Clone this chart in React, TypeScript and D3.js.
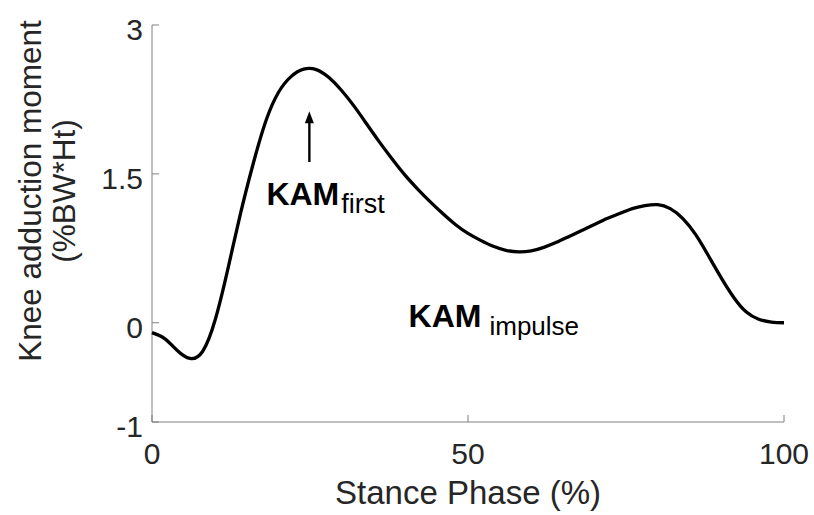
import React from 'react'
import * as d3 from 'd3'

// stance phase (%) and knee adduction moment (%BW*Ht)
const stance = [0, 2, 4, 6, 8, 10, 12, 14, 16, 18, 20, 22, 24, 26, 28, 30, 32, 34, 36, 38, 40,
  42, 44, 46, 48, 50, 52, 54, 56, 58, 60, 62, 64, 66, 68, 70, 72, 74, 76, 78, 80,
  82, 84, 86, 88, 90, 92, 94, 96, 98, 100]
const kam = [-0.10, -0.16, -0.28, -0.36, -0.29, 0.03, 0.54, 1.10, 1.60, 2.03, 2.32, 2.48, 2.555, 2.55, 2.47, 2.34, 2.18, 2.00, 1.82, 1.65, 1.49,
  1.35, 1.22, 1.10, 0.99, 0.90, 0.83, 0.77, 0.73, 0.715, 0.725, 0.76, 0.81, 0.87, 0.93, 0.99, 1.05, 1.10, 1.15, 1.18, 1.19,
  1.15, 1.05, 0.89, 0.68, 0.46, 0.26, 0.11, 0.035, 0.007, 0]

const xTicks = [0, 50, 100]
const yTicks = [-1, 0, 1.5, 3]
const yTickLabels = ['-1', '0', '1.5', '3']

const xTitle = 'Stance Phase (%)'
const yTitle = ['Knee adduction moment', '(%BW*Ht)']

// annotation anchors in data units
const arrowX = 24.9
const arrowFrom = 1.62
const arrowTo = 2.13
const firstLabel = { x: 18.1, y: 1.19, main: 'KAM', sub: 'first' }
const impulseLabel = { x: 40.6, y: -0.04, main: 'KAM', sub: 'impulse' }

const W = 814
const H = 515
const margin = { left: 152, right: 30, top: 25, bottom: 93 }
const font = '"Liberation Sans", Arial, Helvetica, sans-serif'
const textColor = '#262626'
const axisColor = '#808080'

export default function App() {
  const x = d3.scaleLinear().domain([0, 100]).range([margin.left, W - margin.right])
  const y = d3.scaleLinear().domain([-1, 3]).range([H - margin.bottom, margin.top])

  const pts: [number, number][] = stance.map((s, i) => [s, kam[i]])
  const line = d3.line<[number, number]>()
    .x(d => x(d[0]))
    .y(d => y(d[1]))
    .curve(d3.curveNatural)

  const x0 = x(0), x1 = x(100)
  const y0 = y(-1), y1 = y(3)
  const ax = x(arrowX)
  const tipY = y(arrowTo)

  return (
    <svg width={W} height={H} style={{ position: 'absolute', left: 0, top: 0, background: '#fff' }}
      fontFamily={font}>
      {/* axes */}
      <path d={`M${x0},${y1}V${y0}H${x1}`} fill="none" stroke={axisColor} strokeWidth={1} />
      {yTicks.map(t => (
        <line key={'yt' + t} x1={x0} x2={x0 + 7} y1={y(t)} y2={y(t)} stroke={axisColor} />
      ))}
      {xTicks.map(t => (
        <line key={'xt' + t} x1={x(t)} x2={x(t)} y1={y0} y2={y0 - 7} stroke={axisColor} />
      ))}
      {yTicks.map((t, i) => (
        <text key={'yl' + t} x={x0 - 9} y={y(t) + 15} textAnchor="end" fontSize={30} fill={textColor}>
          {yTickLabels[i]}
        </text>
      ))}
      {xTicks.map(t => (
        <text key={'xl' + t} x={x(t)} y={y0 + 42} textAnchor="middle" fontSize={30} fill={textColor}>
          {t}
        </text>
      ))}

      {/* titles */}
      <text x={(x0 + x1) / 2} y={H - 11} textAnchor="middle" fontSize={33} fill={textColor}>{xTitle}</text>
      <g transform={`translate(0,191) rotate(-90)`}>
        <text x={0} y={41} textAnchor="middle" fontSize={31.5} fill={textColor}>{yTitle[0]}</text>
        <text x={0} y={75} textAnchor="middle" fontSize={31.5} fill={textColor}>{yTitle[1]}</text>
      </g>

      {/* curve */}
      <path d={line(pts) || ''} fill="none" stroke="#000" strokeWidth={3.3} strokeLinejoin="round" />

      {/* annotations */}
      <line x1={ax} x2={ax} y1={y(arrowFrom)} y2={tipY + 8} stroke="#000" strokeWidth={2.4} />
      <path d={`M${ax},${tipY}L${ax - 4.5},${tipY + 12}L${ax + 4.5},${tipY + 12}Z`} fill="#000" />
      <text x={x(firstLabel.x)} y={y(firstLabel.y)} fill="#000">
        <tspan fontSize={32} fontWeight="bold">{firstLabel.main}</tspan>
        <tspan fontSize={27} dx={2} dy={8}>{firstLabel.sub}</tspan>
      </text>
      <text x={x(impulseLabel.x)} y={y(impulseLabel.y)} fill="#000">
        <tspan fontSize={32} fontWeight="bold">{impulseLabel.main}</tspan>
        <tspan fontSize={26} dx={8} dy={8}>{impulseLabel.sub}</tspan>
      </text>
    </svg>
  )
}
